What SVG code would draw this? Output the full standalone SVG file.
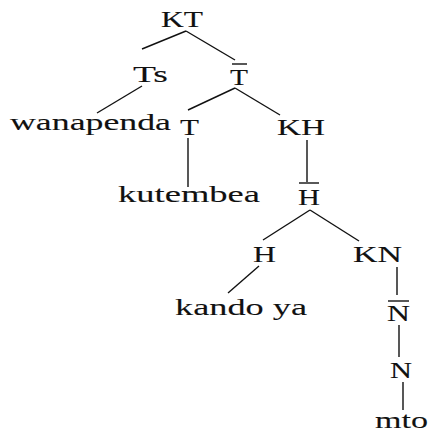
<svg xmlns="http://www.w3.org/2000/svg" width="433" height="433" viewBox="0 0 433 433">
<style>
text{font-family:"Liberation Serif","Times New Roman",serif;font-size:23px;fill:#111;stroke:#111;stroke-width:0.1;}
line{stroke:#111;stroke-width:1.4;}
</style>
<rect width="433" height="433" fill="#fff"/>
<g id="connectors">
<line x1="186" y1="31" x2="142" y2="49"/>
<line x1="186" y1="31" x2="235" y2="60"/>
<line x1="142" y1="86" x2="97" y2="113"/>
<line x1="235" y1="88" x2="188" y2="110"/>
<line x1="235" y1="88" x2="280" y2="115"/>
<line x1="188" y1="138" x2="188" y2="187"/>
<line x1="307" y1="140" x2="307" y2="182"/>
<line x1="310" y1="210" x2="263" y2="240"/>
<line x1="310" y1="210" x2="359" y2="241"/>
<line x1="259" y1="266" x2="228" y2="293"/>
<line x1="397" y1="267" x2="397" y2="295"/>
<line x1="399" y1="325" x2="399" y2="357"/>
<line x1="403" y1="382" x2="403" y2="410"/>
</g>
<g id="KT"><text x="161" y="27" textLength="42" lengthAdjust="spacingAndGlyphs">KT</text></g>
<g id="Ts"><text x="133" y="82" textLength="35" lengthAdjust="spacingAndGlyphs">Ts</text></g>
<g id="Tbar"><line x1="232" y1="64" x2="247" y2="64"/><text x="230" y="85" textLength="18" lengthAdjust="spacingAndGlyphs">T</text></g>
<g id="wanapenda"><text x="10" y="130" textLength="161" lengthAdjust="spacingAndGlyphs">wanapenda</text></g>
<g id="T"><text x="180" y="135" textLength="19" lengthAdjust="spacingAndGlyphs">T</text></g>
<g id="KH"><text x="277" y="135" textLength="48" lengthAdjust="spacingAndGlyphs">KH</text></g>
<g id="kutembea"><text x="118" y="202" textLength="142" lengthAdjust="spacingAndGlyphs">kutembea</text></g>
<g id="Hbar"><line x1="299" y1="183" x2="319" y2="183"/><text x="298" y="205" textLength="22" lengthAdjust="spacingAndGlyphs">H</text></g>
<g id="H"><text x="253" y="262" textLength="23" lengthAdjust="spacingAndGlyphs">H</text></g>
<g id="KN"><text x="353" y="262" textLength="49" lengthAdjust="spacingAndGlyphs">KN</text></g>
<g id="kando-ya"><text x="175" y="315" textLength="132" lengthAdjust="spacingAndGlyphs">kando ya</text></g>
<g id="Nbar"><line x1="388" y1="301" x2="409" y2="301"/><text x="387" y="321" textLength="23" lengthAdjust="spacingAndGlyphs">N</text></g>
<g id="N"><text x="390" y="378" textLength="22" lengthAdjust="spacingAndGlyphs">N</text></g>
<g id="mto"><text x="375" y="428" textLength="53" lengthAdjust="spacingAndGlyphs">mto</text></g>
</svg>
